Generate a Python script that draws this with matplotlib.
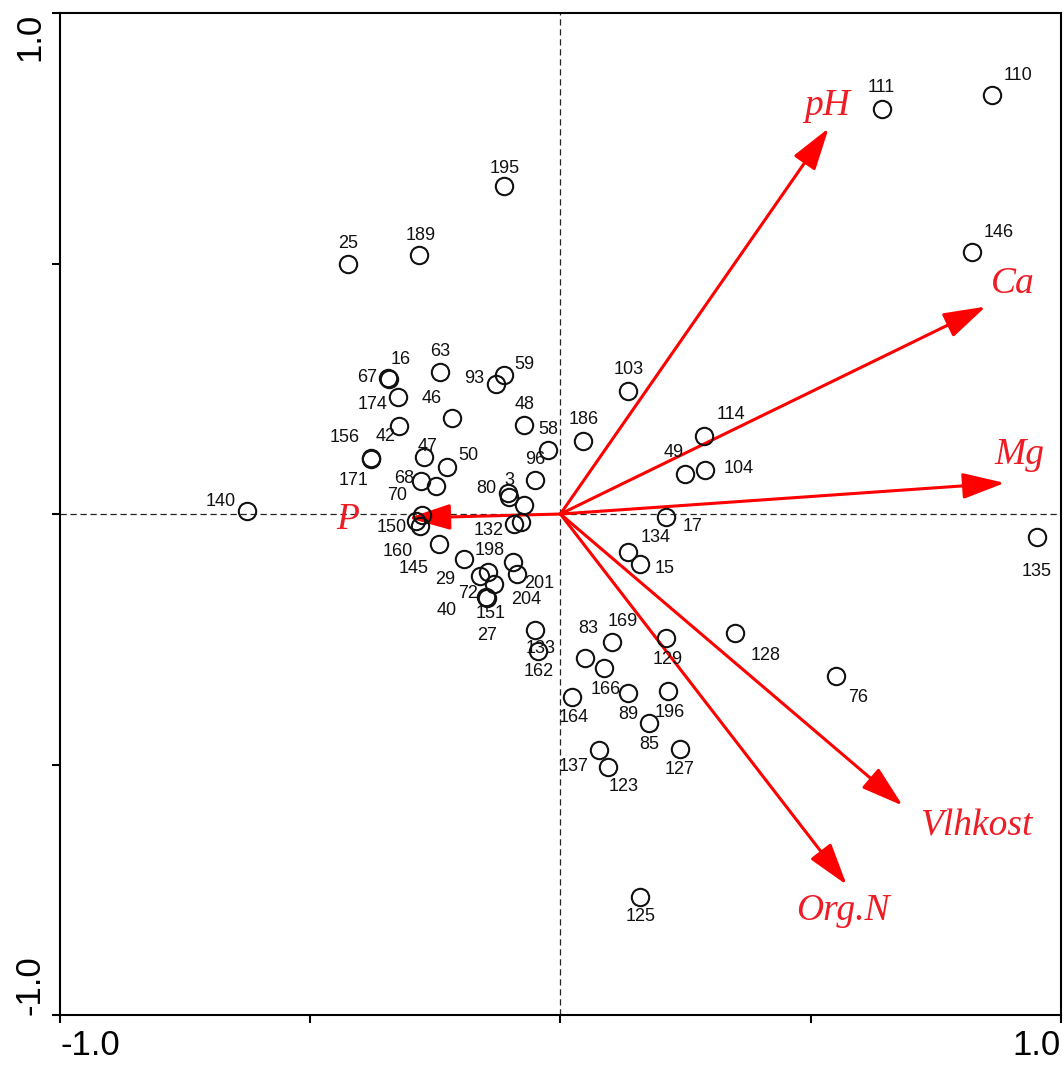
import matplotlib.pyplot as plt
import numpy as np

# sample scores (axis 1, axis 2)
samples = ['111', '110', '195', '25', '189', '146', '67', '16', '63', '93', '59', '174',
           '46', '48', '42', '156', '171', '58', '47', '50', '96', '68', '70', '80', '3',
           '140', '150', '160', '', '145', '198', '29', '72', '40', '151', '27', '201',
           '204', '132', '', '', '133', '162', '103', '186', '114', '49', '104', '17',
           '134', '15', '135', '76', '128', '83', '169', '166', '129', '164', '89', '196',
           '85', '127', '137', '123', '125']
sx = [0.642, 0.862, -0.112, -0.424, -0.282, 0.822, -0.344, -0.342, -0.240, -0.128, -0.112,
      -0.324, -0.216, -0.072, -0.322, -0.378, -0.378, -0.024, -0.272, -0.226, -0.050, -0.278,
      -0.248, -0.104, -0.102, -0.626, -0.288, -0.280, -0.276, -0.242, -0.192, -0.160, -0.144,
      -0.132, -0.146, -0.148, -0.094, -0.086, -0.092, -0.072, -0.078, -0.050, -0.044, 0.136,
      0.046, 0.286, 0.248, 0.288, 0.212, 0.136, 0.160, 0.952, 0.550, 0.348, 0.050, 0.104,
      0.088, 0.212, 0.024, 0.136, 0.216, 0.178, 0.238, 0.078, 0.096, 0.160]
sy = [0.808, 0.836, 0.654, 0.500, 0.516, 0.522, 0.272, 0.270, 0.284, 0.260, 0.278, 0.234,
      0.192, 0.178, 0.176, 0.112, 0.110, 0.128, 0.114, 0.094, 0.068, 0.066, 0.056, 0.042,
      0.034, 0.006, -0.014, -0.024, -0.002, -0.060, -0.090, -0.124, -0.116, -0.140, -0.168,
      -0.166, -0.096, -0.120, -0.020, 0.018, -0.016, -0.232, -0.274, 0.246, 0.146, 0.156,
      0.080, 0.088, -0.006, -0.076, -0.100, -0.046, -0.324, -0.238, -0.288, -0.256, -0.308,
      -0.248, -0.366, -0.358, -0.354, -0.418, -0.468, -0.470, -0.504, -0.764]

# environmental variables
env_names = ['pH', 'Ca', 'Mg', 'Vlhkost', 'Org.N', 'P']
env_x = [0.536, 0.850, 0.888, 0.684, 0.572, -0.304]
env_y = [0.770, 0.414, 0.062, -0.582, -0.740, -0.008]

# label placement (offset in pixels)
lab_off = {'111': (0, 22), '110': (26, 20), '195': (0, 18), '25': (0, 20), '189': (1, 20),
           '146': (27, 20), '67': (-21, 0), '16': (11, 19), '63': (0, 20), '93': (-22, 5),
           '59': (20, 10), '174': (-26, -8), '46': (-21, 19), '48': (0, 20), '42': (-14, -11),
           '156': (-27, 20), '171': (-18, -22), '58': (0, 20), '47': (3, 10), '50': (21, 11),
           '96': (0, 20), '68': (-17, 2), '70': (-39, -10), '80': (-22, 4), '3': (0, 16),
           '140': (-26, 10), '150': (-25, -6), '160': (-23, -25), '145': (-26, -24),
           '198': (25, 9), '29': (-35, -3), '72': (-20, -21), '40': (-48, -26),
           '151': (3, -15), '27': (1, -38), '201': (26, -21), '204': (9, -25),
           '132': (-26, -6), '133': (5, -18), '162': (0, -20), '103': (0, 21),
           '186': (0, 21), '114': (27, 21), '49': (-11, 21), '104': (34, 1), '17': (26, -9),
           '134': (27, 15), '15': (24, -4), '135': (0, -34), '76': (22, -21),
           '128': (31, -22), '83': (3, 30), '169': (10, 21), '166': (1, -21), '129': (1, -21),
           '164': (1, -20), '89': (0, -21), '196': (1, -21), '85': (0, -21), '127': (0, -21),
           '137': (-26, -17), '123': (15, -20), '125': (0, -20)}
env_lab = [(0.534, 0.814), (0.904, 0.460), (0.918, 0.118), (0.830, -0.624),
           (0.564, -0.792), (-0.426, -0.012)]

plt.rcParams['font.family'] = ['Liberation Sans', 'DejaVu Sans']
fig = plt.figure(figsize=(10.64, 10.66), dpi=100)
ax = fig.add_axes([0.0564, 0.0478, 0.9406, 0.94])
ax.set_xlim(-1, 1)
ax.set_ylim(-1, 1)

ax.axhline(0, color='#222222', lw=0.9, ls=(0, (5, 3)), zorder=1)
ax.axvline(0, color='#222222', lw=0.9, ls=(0, (5, 3)), zorder=1)

for i in range(len(env_names)):
    ax.annotate('', xy=(env_x[i], env_y[i]), xytext=(0, 0),
                arrowprops=dict(arrowstyle='-|>,head_length=1.3,head_width=0.4',
                                color='red', lw=2.2, mutation_scale=20,
                                shrinkA=0, shrinkB=0), zorder=2)
    ax.text(env_lab[i][0], env_lab[i][1], env_names[i], color='#ee1c25',
            fontsize=27, fontstyle='italic', family='Liberation Serif',
            ha='center', va='center', zorder=4)

ax.plot(sx, sy, 'o', ms=12.5, mfc='none', mec='#111111', mew=1.5, zorder=3)
for name, x, y in zip(samples, sx, sy):
    if name:
        dx, dy = lab_off[name]
        ax.annotate(name, (x, y), xytext=(dx, dy), textcoords='offset pixels',
                    ha='center', va='center', fontsize=13, color='#111111', zorder=4)

for s in ax.spines.values():
    s.set_linewidth(1.5)
ax.set_xticks([-1, -0.5, 0, 0.5, 1])
ax.set_yticks([-1, -0.5, 0, 0.5, 1])
ax.set_xticklabels(['-1.0', '', '', '', '1.0'], fontsize=25)
ax.set_yticklabels(['-1.0', '', '', '', '1.0'], fontsize=25, rotation=90)
ax.tick_params(direction='out', length=6, width=1.5, pad=4)
xl = ax.get_xticklabels()
xl[0].set_ha('left')
xl[-1].set_ha('right')
yl = ax.get_yticklabels()
yl[0].set_va('bottom')
yl[-1].set_va('top')

plt.savefig('out.png', dpi=100)
